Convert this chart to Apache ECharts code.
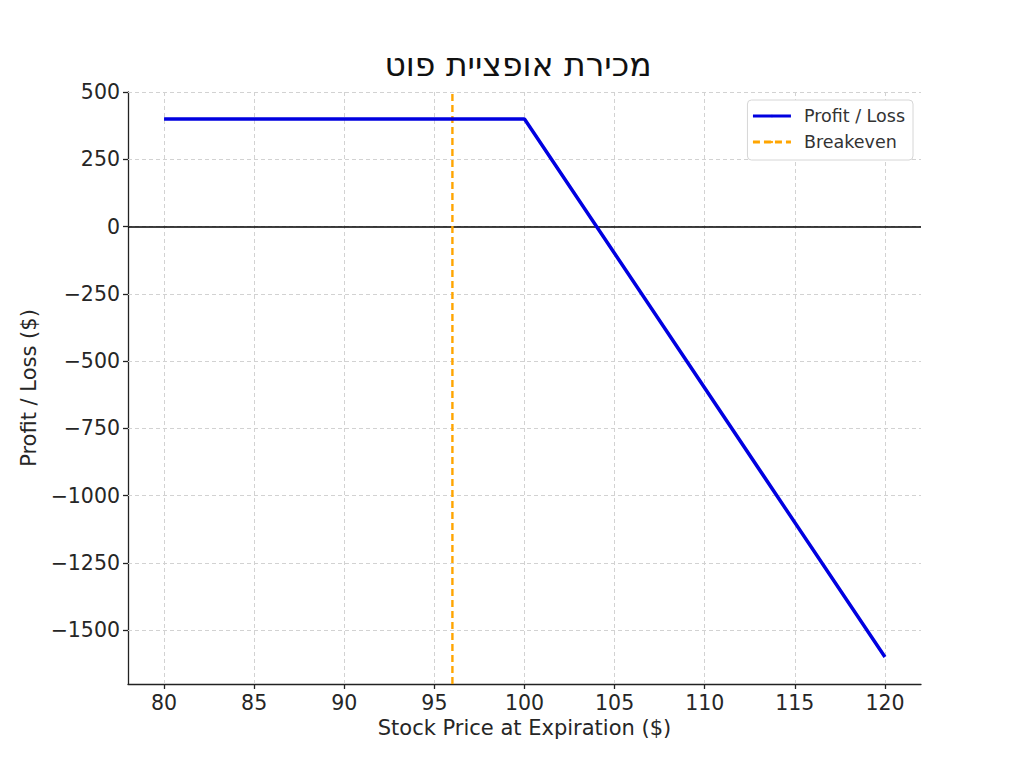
<!DOCTYPE html>
<html>
<head>
<meta charset="utf-8">
<title>מכירת אופציית פוט</title>
<script src="https://cdn.jsdelivr.net/npm/echarts@6/dist/echarts.min.js"></script>
<style>
  html, body { margin: 0; padding: 0; background: #fff; }
  #chart { width: 1024px; height: 768px; }
</style>
</head>
<body>
<div id="chart"></div>
<script>
// data
const prices = [80, 100, 120];
const profitLoss = [400, 400, -1600];
const breakeven = 96;

const xTicks = [80, 85, 90, 95, 100, 105, 110, 115, 120];
const yTicks = [500, 250, 0, -250, -500, -750, -1000, -1250, -1500];

// axis range = data range plus 5% each side
const xMin = 78, xMax = 122;
const yMin = -1700, yMax = 500;

const font = 'DejaVu Sans';
const textColor = '#262626';

// svg renderer so the hebrew title gets the browser's bidi handling
const chart = echarts.init(document.getElementById('chart'), null, { renderer: 'svg' });

const option = {
    animation: false,
    title: {
        text: 'מכירת אופציית פוט',
        left: 513,
        textAlign: 'center',
        top: 43,
        textStyle: { fontFamily: font, fontSize: 33, fontWeight: 'normal', color: '#111' }
    },
    legend: {
        orient: 'vertical',
        right: 111,
        top: 100,
        data: ['Profit / Loss', 'Breakeven'],
        itemWidth: 38,
        itemHeight: 3,      // tiny, so the legend shows only the line sample
        itemGap: 8,
        padding: [7, 8, 9, 4],
        borderColor: '#d6d6d6',
        borderWidth: 1,
        borderRadius: 4,
        backgroundColor: '#fff',
        lineStyle: { width: 3 },
        textStyle: { fontFamily: font, fontSize: 17.5, color: '#333', padding: [0, 0, 0, 8] }
    },
    grid: { left: 128, right: 103, top: 92, bottom: 84 },
    xAxis: {
        type: 'value',
        min: xMin,
        max: xMax,
        name: 'Stock Price at Expiration ($)',
        nameLocation: 'middle',
        nameGap: 32,
        nameTextStyle: { fontFamily: font, fontSize: 21, color: textColor },
        axisLine: { onZero: false, lineStyle: { color: '#222', width: 1.3 } },
        axisTick: { show: true, length: 5, customValues: xTicks, lineStyle: { color: '#222', width: 1.3 } },
        axisLabel: { customValues: xTicks, margin: 8, fontFamily: font, fontSize: 20.5, color: textColor },
        splitLine: { show: false }
    },
    yAxis: {
        type: 'value',
        min: yMin,
        max: yMax,
        name: 'Profit / Loss ($)',
        nameLocation: 'middle',
        nameGap: 88,
        nameTextStyle: { fontFamily: font, fontSize: 21, color: textColor },
        axisLine: { show: true, lineStyle: { color: '#222', width: 1.3 } },
        axisTick: { show: true, length: 5, customValues: yTicks, lineStyle: { color: '#222', width: 1.3 } },
        axisLabel: {
            customValues: yTicks, margin: 8, fontFamily: font, fontSize: 20.5, color: textColor,
            formatter: v => String(v).replace('-', '\u2212')
        },
        splitLine: { show: false }
    },
    series: [
        {
            // dashed grid, built from the tick arrays
            name: 'grid',
            type: 'line',
            data: [],
            silent: true,
            z: 1,
            markLine: {
                silent: true,
                z: 1,
                symbol: 'none',
                label: { show: false },
                lineStyle: { color: '#d2d2d2', type: [4, 3], width: 1 },
                data: xTicks.map(v => ({ xAxis: v })).concat(yTicks.map(v => ({ yAxis: v })))
            }
        },
        {
            // zero line
            name: 'zero',
            type: 'line',
            data: [],
            silent: true,
            z: 2,
            markLine: {
                silent: true,
                z: 2,
                symbol: 'none',
                label: { show: false },
                lineStyle: { color: '#000', type: 'solid', width: 1.5 },
                data: [{ yAxis: 0 }]
            }
        },
        {
            name: 'Profit / Loss',
            type: 'line',
            data: prices.map((p, i) => [p, profitLoss[i]]),
            showSymbol: false,
            symbol: 'none',
            z: 4,
            lineStyle: { color: '#0000e0', width: 3.5 },
            itemStyle: { color: '#0000e0' }
        },
        {
            name: 'Breakeven',
            type: 'line',
            data: [[breakeven, yMin], [breakeven, yMax]],
            showSymbol: false,
            symbol: 'none',
            z: 3,
            lineStyle: { color: '#ffa500', width: 2.4, type: [7, 4] },
            itemStyle: { color: '#ffa500' }
        }
    ]
};

chart.setOption(option);
</script>
</body>
</html>
